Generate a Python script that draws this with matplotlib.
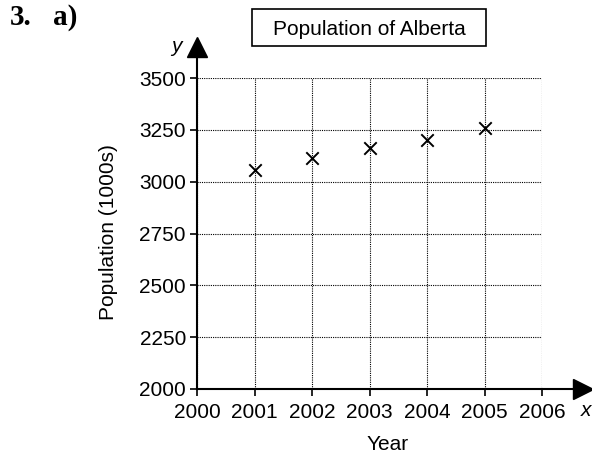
import matplotlib
matplotlib.use("Agg")
import matplotlib.pyplot as plt
from matplotlib.patches import Rectangle

years = [2001, 2002, 2003, 2004, 2005]
population = [3056, 3114, 3160, 3202, 3260]
x_ticks = [2000, 2001, 2002, 2003, 2004, 2005, 2006]
y_ticks = [2000, 2250, 2500, 2750, 3000, 3250, 3500]

plt.rcParams['font.family'] = ['Liberation Sans', 'DejaVu Sans']

W, H = 592, 454
fig = plt.figure(figsize=(W/100, H/100), dpi=100)
ax = fig.add_axes([197/W, 1-389/H, (542-197)/W, (389-78)/H])

ax.scatter(years, population, marker='x', s=80, color='black', linewidths=1.4, zorder=3)

ax.set_xlim(2000, 2006)
ax.set_ylim(2000, 3500)
ax.set_xticks(x_ticks)
ax.set_yticks(y_ticks)
ax.tick_params(labelsize=15, length=5, width=1.2, color='black')
ax.tick_params(axis='x', pad=5)
ax.tick_params(axis='y', pad=3)
ax.grid(True, linestyle=(0, (1, 1)), color='black', linewidth=0.8)
for s in ['top', 'right']:
    ax.spines[s].set_visible(False)
for s in ['left', 'bottom']:
    ax.spines[s].set_linewidth(1.5)

# axis extensions with arrows
ax.plot([2006, 2006.75], [2000, 2000], color='black', lw=1.5, clip_on=False)
ax.plot([2006.72], [2000], marker='>', markersize=14, color='black', clip_on=False)
ax.plot([2000, 2000], [3500, 3640], color='black', lw=1.5, clip_on=False)
ax.plot([2000], [3650], marker='^', markersize=14, color='black', clip_on=False)

fig.text(388/W, 1-450/H, 'Year', fontsize=15, ha='center', va='baseline')
fig.text(109/W, 1-232/H, 'Population (1000s)', fontsize=15, rotation=90, ha='center', va='center')

fig.text(176/W, 1-46/H, 'y', fontsize=15, style='italic', ha='center', va='center')
fig.text(586/W, 1-410/H, 'x', fontsize=15, style='italic', ha='center', va='center')

fig.add_artist(Rectangle((252/W, 1-46/H), (486-252)/W, 37/H, transform=fig.transFigure,
                         fill=False, ec='black', lw=1.2))
fig.text(369.5/W, 1-35/H, 'Population of Alberta', fontsize=15, ha='center', va='baseline')

fig.text(10/W, 1-25/H, '3.', fontsize=21, fontweight='bold', family='Liberation Serif', ha='left', va='baseline')
fig.text(53/W, 1-25/H, 'a)', fontsize=21, fontweight='bold', family='Liberation Serif', ha='left', va='baseline')

fig.savefig('out.png', dpi=100)
